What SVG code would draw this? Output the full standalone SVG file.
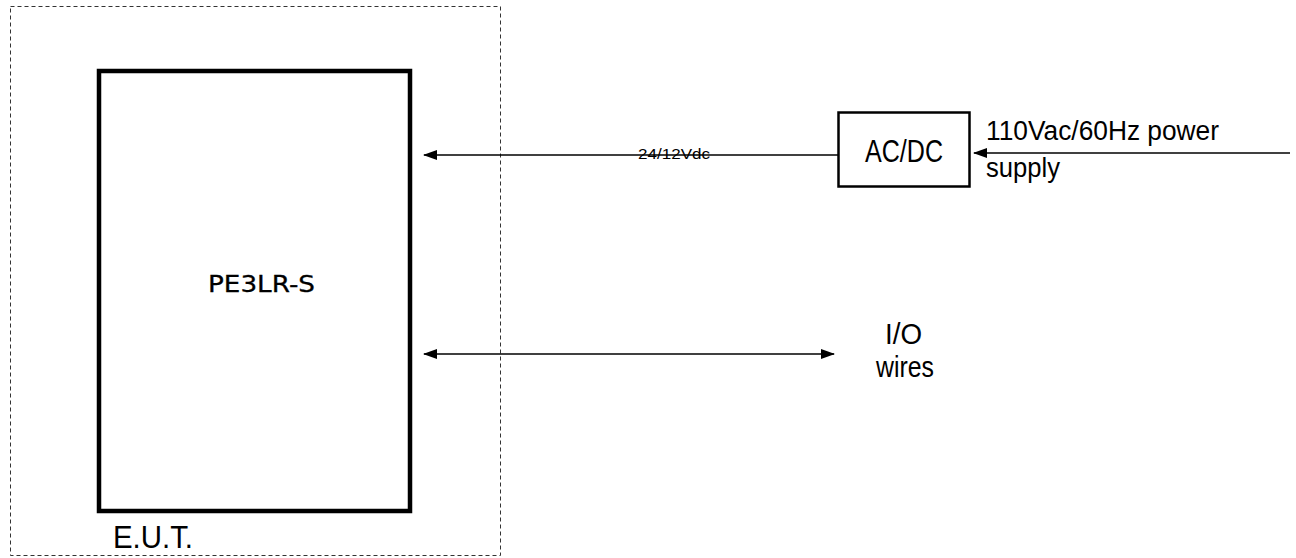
<svg xmlns="http://www.w3.org/2000/svg" width="1296" height="558" viewBox="0 0 1296 558">
<style>
.t{font-family:"Liberation Sans",Arial,sans-serif;fill:#000}
.ln{stroke:#000;stroke-width:1.6;fill:none}
</style>
<defs>
<marker id="ah" markerWidth="14" markerHeight="10" refX="13" refY="5" orient="auto-start-reverse" markerUnits="userSpaceOnUse">
<path d="M0,0 L14,5 L0,10 Z" fill="#000"/>
</marker>
</defs>
<rect width="1296" height="558" fill="#fff"/>
<g id="eut-boundary">
<rect x="10.5" y="6.5" width="490" height="549" fill="none" stroke="#333" stroke-width="1" stroke-dasharray="4,3"/>
<text class="t" x="113" y="548" font-size="31" textLength="80" lengthAdjust="spacingAndGlyphs">E.U.T.</text>
</g>
<g id="pe3lr">
<rect x="99" y="71" width="311" height="440" fill="none" stroke="#000" stroke-width="4.5"/>
<text x="208" y="292" font-family="'DejaVu Sans',Verdana,sans-serif" font-size="23" stroke="#000" stroke-width="0.3" textLength="107" lengthAdjust="spacingAndGlyphs">PE3LR-S</text>
</g>
<g id="acdc">
<rect x="838.5" y="112.5" width="131" height="74" fill="none" stroke="#000" stroke-width="2.5"/>
<text class="t" x="865" y="162" font-size="31" textLength="78" lengthAdjust="spacingAndGlyphs">AC/DC</text>
</g>
<g id="labels">
<text class="t" x="986" y="140" font-size="27" textLength="233" lengthAdjust="spacingAndGlyphs">110Vac/60Hz power</text>
<text class="t" x="986" y="177" font-size="27" textLength="74" lengthAdjust="spacingAndGlyphs">supply</text>
<text class="t" x="885" y="344" font-size="30" textLength="37" lengthAdjust="spacingAndGlyphs">I/O</text>
<text class="t" x="876" y="377" font-size="30" textLength="58" lengthAdjust="spacingAndGlyphs">wires</text>
</g>
<g id="connectors">
<line class="ln" x1="838" y1="155" x2="424" y2="155" marker-end="url(#ah)"/>
<text class="t" x="638" y="159" font-size="15" textLength="72" lengthAdjust="spacingAndGlyphs">24/12Vdc</text>
<line class="ln" x1="1290" y1="153" x2="974" y2="153" marker-end="url(#ah)"/>
<line class="ln" x1="424" y1="354" x2="834" y2="354" marker-start="url(#ah)" marker-end="url(#ah)"/>
</g>
</svg>
